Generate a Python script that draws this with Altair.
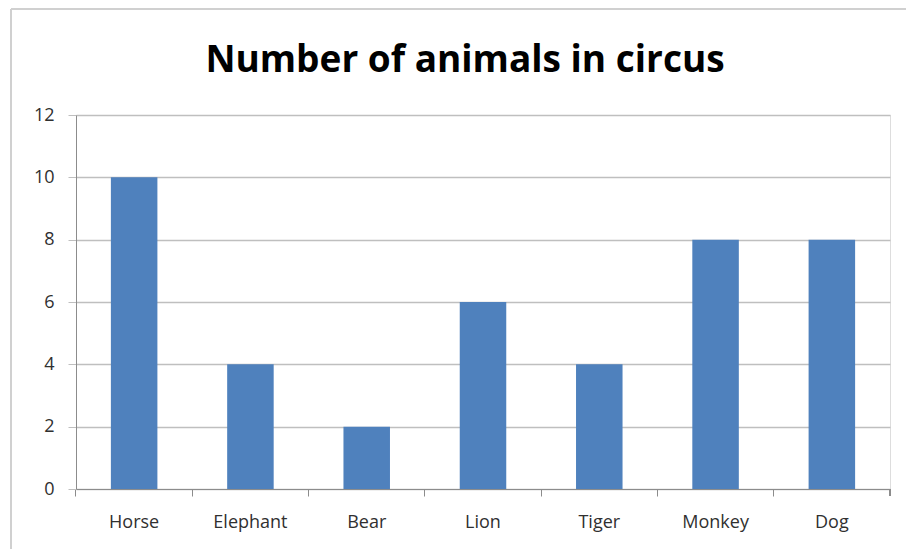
import altair as alt
import pandas as pd

animals = ["Horse", "Elephant", "Bear", "Lion", "Tiger", "Monkey", "Dog"]
counts = [10, 4, 2, 6, 4, 8, 8]

df = pd.DataFrame({"animal": animals, "count": counts})

W, H = 814, 374

bars = alt.Chart(df).mark_bar(color="#4F81BD").encode(
    x=alt.X("animal:N", sort=animals, title=None,
            scale=alt.Scale(paddingInner=0.6, paddingOuter=0.3),
            axis=alt.Axis(labelAngle=0, labelFontSize=18, labelColor="#303030",
                          labelFont="Open Sans", labelPadding=17,
                          domainColor="#8C8C8C", tickColor="#8C8C8C",
                          tickSize=7, bandPosition=-0.75, grid=False)),
    y=alt.Y("count:Q", title=None,
            scale=alt.Scale(domain=[0, 12]),
            axis=alt.Axis(values=[0, 2, 4, 6, 8, 10, 12], labelFontSize=18,
                          labelColor="#303030", labelFont="Open Sans",
                          labelPadding=14, domainColor="#8C8C8C",
                          tickColor="#BFBFBF", tickSize=8, gridColor="#BFBFBF",
                          gridWidth=1.5)),
)

end_tick = alt.Chart(df).mark_rule(color="#8C8C8C").encode(
    x=alt.value(W), y=alt.value(H), y2=alt.value(H + 7)
)

border_top = alt.Chart(df).mark_rule(color="#D0D0D0", strokeWidth=2).encode(
    x=alt.value(-65), x2=alt.value(W + 100), y=alt.value(-106)
)
border_left = alt.Chart(df).mark_rule(color="#D0D0D0", strokeWidth=2).encode(
    x=alt.value(-65), y=alt.value(-106), y2=alt.value(H + 100)
)

chart = alt.layer(bars, end_tick, border_top, border_left).properties(
    width=W, height=H,
    title=alt.TitleParams("Number of animals in circus", fontSize=37,
                          font="Open Sans", fontWeight="bold", color="#000000",
                          anchor="middle", dx=-18, offset=-101,
                          baseline="alphabetic"),
    padding={"left": 76, "top": 115, "right": 16, "bottom": 60},
    autosize=alt.AutoSizeParams(type="none"),
).configure_view(stroke=None).configure(background="white")

chart.save("out.html", embed_options={"renderer": "svg", "actions": False})
